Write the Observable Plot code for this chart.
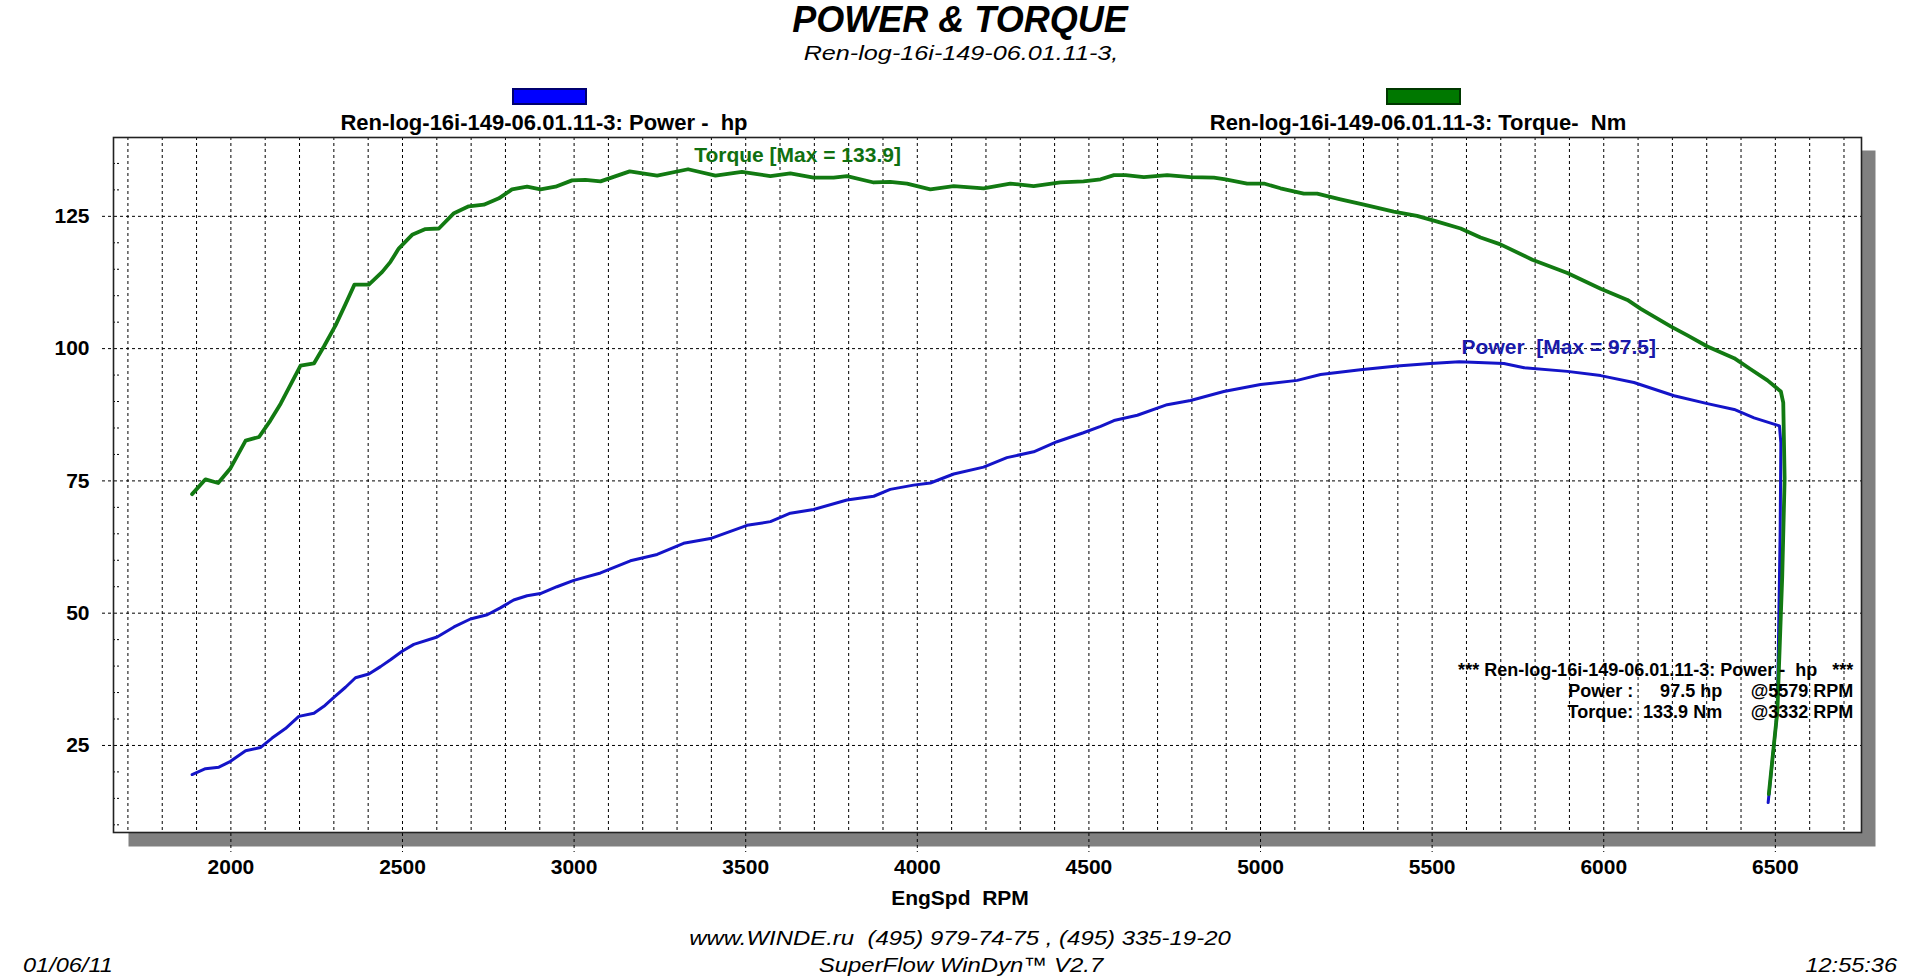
<!DOCTYPE html>
<html><head><meta charset="utf-8">
<script src="https://cdn.jsdelivr.net/npm/d3@7"></script>
<script src="https://cdn.jsdelivr.net/npm/@observablehq/plot@0.6"></script>
<style>
html,body{margin:0;padding:0;background:#fff;}
#wrap{position:relative;width:1920px;height:977px;overflow:hidden;font-family:"Liberation Sans",Arial,sans-serif;background:#fff;}
#chart{position:absolute;left:0;top:0;}
.t{position:absolute;white-space:pre;line-height:1;color:#000;transform:translate(-50%,-50%);}
svg text{white-space:pre;}
.sw{position:absolute;box-sizing:border-box;}
</style></head><body>
<div id="wrap"><div id="chart"></div></div>
<script>
// ---- data ----
const torqueRpm = [1887,1926,1963,1999,2043,2082,2115,2145,2174,2203,2242,2271,2305,2334,2360,2402,2441,2465,2489,2528,2567,2606,2650,2693,2737,2781,2819,2863,2902,2946,2994,3033,3077,3162,3242,3332,3412,3489,3572,3630,3698,3756,3795,3873,3921,3970,4038,4106,4193,4271,4339,4417,4484,4534,4573,4607,4660,4728,4796,4864,4898,4961,5010,5058,5126,5165,5233,5301,5388,5456,5515,5583,5641,5699,5792,5894,5991,6069,6108,6195,6244,6302,6380,6428,6477,6516,6523,6527,6520,6506,6481];
const torqueNm = [72.5,75.3,74.6,77.4,82.6,83.3,86.4,89.6,93.2,96.8,97.2,100.4,104.4,108.4,112.1,112.1,114.5,116.4,118.9,121.5,122.6,122.7,125.6,126.9,127.2,128.4,130.1,130.6,130.1,130.6,131.8,131.9,131.6,133.5,132.7,133.9,132.7,133.4,132.6,133.1,132.3,132.3,132.6,131.4,131.5,131.2,130.1,130.7,130.3,131.2,130.7,131.4,131.6,132.0,132.8,132.8,132.4,132.8,132.4,132.3,132.0,131.2,131.2,130.3,129.3,129.3,128.2,127.2,125.9,125.1,124.0,122.7,121.0,119.7,116.8,114.3,111.3,109.2,107.5,104.2,102.5,100.4,98.2,96.1,94.0,91.9,89.8,75.4,56.9,31.6,15.8];
const powerRpm = [1887,1926,1965,1999,2043,2086,2120,2159,2198,2242,2271,2300,2334,2363,2402,2436,2465,2499,2533,2601,2650,2698,2747,2785,2824,2863,2902,2950,2999,3077,3164,3242,3319,3397,3504,3572,3630,3698,3795,3873,3921,3989,4038,4106,4193,4261,4339,4407,4484,4534,4573,4641,4728,4796,4893,5000,5107,5175,5291,5398,5495,5579,5709,5768,5894,5991,6088,6205,6302,6380,6438,6512,6516,6514,6506,6479];
const powerHp = [19.5,20.6,20.9,22.0,24.0,24.6,26.4,28.2,30.5,31.1,32.4,34.1,36.0,37.8,38.5,39.9,41.2,42.8,44.1,45.5,47.4,48.9,49.7,51.0,52.5,53.3,53.7,55.0,56.2,57.6,59.9,61.1,63.2,64.1,66.6,67.3,68.9,69.6,71.4,72.1,73.4,74.2,74.6,76.3,77.6,79.4,80.5,82.4,84.1,85.3,86.4,87.4,89.4,90.2,91.9,93.2,94.0,95.1,96.0,96.7,97.2,97.5,97.2,96.4,95.7,94.9,93.6,91.1,89.6,88.5,86.9,85.4,82.2,65.3,31.6,14.2];
const xTickLabels = [2000,2500,3000,3500,4000,4500,5000,5500,6000,6500];
const yTickLabels = [25,50,75,100,125];
const xMinorGrid = [1700,1800,1900,2100,2200,2300,2400,2600,2700,2800,2900,3100,3200,3300,3400,3600,3700,3800,3900,4100,4200,4300,4400,4600,4700,4800,4900,5100,5200,5300,5400,5600,5700,5800,5900,6100,6200,6300,6400,6600,6700];
const yMinorTicks = [10,15,20,30,35,40,45,55,60,65,70,80,85,90,95,105,110,115,120,130,135];
const statsLines = [
  ["Power :", "97.5 hp", "@5579 RPM"],
  ["Torque:", "133.9 Nm", "@3332 RPM"]
];

const torque = torqueRpm.map((r,i)=>({rpm:r, v:torqueNm[i]}));
const power = powerRpm.map((r,i)=>({rpm:r, v:powerHp[i]}));

const GREEN = "#127a12", BLUE = "#1414c8";
const F = "Liberation Sans, Arial, sans-serif";
const statY = [35.3, 31.3];

const chart = Plot.plot({
  width:1920, height:977,
  marginTop:137, marginBottom:145, marginLeft:113, marginRight:59,
  x:{domain:[1658,6751], axis:null},
  y:{domain:[8.55,139.9], axis:null},
  style:{fontFamily:F, background:"transparent", overflow:"visible"},
  marks:[
    Plot.frame({fill:"#808080", stroke:"none", insetLeft:15, insetTop:13, insetRight:-14, insetBottom:-14}),
    Plot.frame({fill:"#fff", stroke:"none"}),
    Plot.ruleX(xMinorGrid, {stroke:"#000", strokeWidth:1, strokeDasharray:"3,3"}),
    Plot.ruleX(xTickLabels, {stroke:"#000", strokeWidth:1, strokeDasharray:"3,3", insetBottom:-20}),
    Plot.ruleY(yTickLabels, {stroke:"#000", strokeWidth:1, strokeDasharray:"3,3", insetLeft:-11}),
    Plot.ruleY(yMinorTicks, {stroke:"#000", strokeWidth:1, strokeDasharray:"2,2", insetRight:1741}),
    Plot.line(power, {x:"rpm", y:"v", stroke:BLUE, strokeWidth:3, strokeLinejoin:"round"}),
    Plot.line(torque, {x:"rpm", y:"v", stroke:GREEN, strokeWidth:3.8, strokeLinejoin:"round"}),
    Plot.frame({stroke:"#222", strokeWidth:1.6}),
    Plot.text(xTickLabels, {x:d=>d, text:d=>String(d), frameAnchor:"bottom", dy:41, fontSize:21, fontWeight:"bold", fill:"#000"}),
    Plot.text(yTickLabels, {y:d=>d, text:d=>String(d), frameAnchor:"left", dx:-24, textAnchor:"end", fontSize:21, fontWeight:"bold", fill:"#000"}),
    Plot.text(["Torque [Max = 133.9]"], {x:()=>3651, y:()=>136.5, text:d=>d, fontSize:21, fontWeight:"bold", fill:"#107010"}),
    Plot.text(["Power  [Max = 97.5]"], {x:()=>5869, y:()=>100.2, text:d=>d, fontSize:21, fontWeight:"bold", fill:"#1a1aaa"}),
    Plot.text(["*** Ren-log-16i-149-06.01.11-3: Power -  hp   ***"], {x:()=>6727, y:()=>39.2, text:d=>d, textAnchor:"end", fontSize:18, fontWeight:"bold", fill:"#000"}),
    Plot.text(statsLines, {x:()=>6086, y:(d,i)=>statY[i], text:d=>d[0], textAnchor:"end", fontSize:18, fontWeight:"bold", fill:"#000"}),
    Plot.text(statsLines, {x:()=>6345, y:(d,i)=>statY[i], text:d=>d[1], textAnchor:"end", fontSize:18, fontWeight:"bold", fill:"#000"}),
    Plot.text(statsLines, {x:()=>6727, y:(d,i)=>statY[i], text:d=>d[2], textAnchor:"end", fontSize:18, fontWeight:"bold", fill:"#000"})
  ]
});
document.getElementById("chart").appendChild(chart);

// ---- header / legend / footer texts ----
const wrap = document.getElementById("wrap");
function txt(s, x, y, css, k, align){
  const d = document.createElement("div");
  d.className = "t"; d.textContent = s;
  d.style.left = x+"px"; d.style.top = y+"px";
  Object.assign(d.style, css);
  k = k || 1;
  if(align === "left"){ d.style.transformOrigin = "left center"; d.style.transform = `translate(0,-50%) scaleX(${k})`; }
  else if(align === "right"){ d.style.transformOrigin = "right center"; d.style.transform = `translate(-100%,-50%) scaleX(${k})`; }
  else { d.style.transform = `translate(-50%,-50%) scaleX(${k})`; }
  wrap.appendChild(d);
}
function swatch(x, y, w, h, fill, border){
  const d = document.createElement("div");
  d.className = "sw";
  Object.assign(d.style, {left:x+"px", top:y+"px", width:w+"px", height:h+"px", background:fill, border:"2px solid "+border});
  wrap.appendChild(d);
}
txt("POWER & TORQUE", 960, 20, {fontSize:"36px", fontWeight:"bold", fontStyle:"italic"}, 1);
txt("Ren-log-16i-149-06.01.11-3,", 961, 52, {fontSize:"21px", fontStyle:"italic"}, 1.2);
swatch(512, 88, 75, 17, "#0000ff", "#000070");
swatch(1386, 88, 75, 17, "#007800", "#003800");
txt("Ren-log-16i-149-06.01.11-3: Power -  hp", 544, 123, {fontSize:"22px", fontWeight:"bold"}, 1);
txt("Ren-log-16i-149-06.01.11-3: Torque-  Nm", 1418, 123, {fontSize:"22px", fontWeight:"bold"}, 1);
txt("EngSpd  RPM", 960, 897, {fontSize:"21px", fontWeight:"bold"}, 1);
txt("www.WINDE.ru  (495) 979-74-75 , (495) 335-19-20", 960, 937, {fontSize:"21px", fontStyle:"italic"}, 1.14);
txt("SuperFlow WinDyn™ V2.7", 961, 964, {fontSize:"21px", fontStyle:"italic"}, 1.14);
txt("01/06/11", 23, 964, {fontSize:"21px", fontStyle:"italic"}, 1.12, "left");
txt("12:55:36", 1897, 964, {fontSize:"21px", fontStyle:"italic"}, 1.12, "right");
</script>
</body></html>
